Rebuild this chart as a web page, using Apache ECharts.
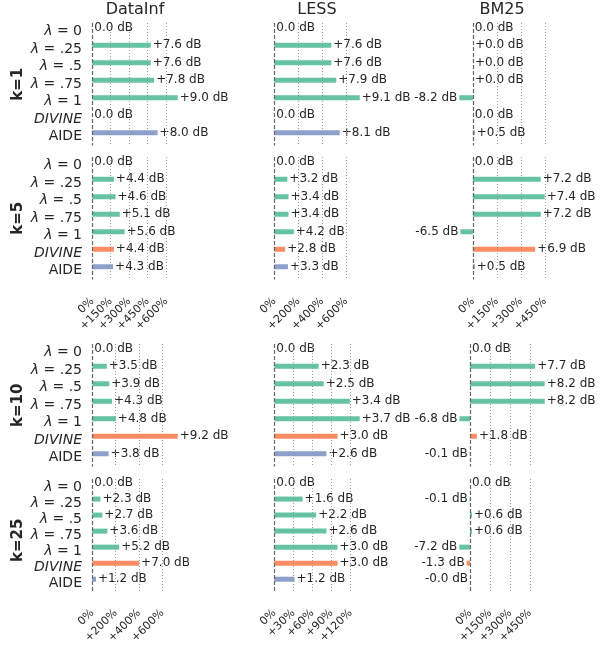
<!DOCTYPE html>
<html>
<head>
<meta charset="utf-8">
<script src="https://cdn.jsdelivr.net/npm/echarts@6/dist/echarts.min.js"></script>
<style>
  html, body { margin: 0; padding: 0; background: #fff; }
  #chart { width: 606px; height: 646px; }
</style>
</head>
<body>
<div id="chart"></div>
<script>
// rows of every panel, top to bottom
const categories = ['λ = 0', 'λ = .25', 'λ = .5', 'λ = .75', 'λ = 1', 'DIVINE', 'AIDE'];
const methods = ['DataInf', 'LESS', 'BM25'];
const kLabels = ['k=1', 'k=5', 'k=10', 'k=25'];

// gain over baseline in dB (bar length is the same gain as a relative %)
const dataInfK1  = [0.0, 7.6, 7.6, 7.8, 9.0, 0.0, 8.0];
const lessK1     = [0.0, 7.6, 7.6, 7.9, 9.1, 0.0, 8.1];
const bm25K1     = [0.0, 0.02, 0.02, 0.02, -8.2, 0.0, 0.5];
const dataInfK5  = [0.0, 4.4, 4.6, 5.1, 5.6, 4.4, 4.3];
const lessK5     = [0.0, 3.2, 3.4, 3.4, 4.2, 2.8, 3.3];
const bm25K5     = [0.0, 7.2, 7.4, 7.2, -6.5, 6.9, 0.5];
const dataInfK10 = [0.0, 3.5, 3.9, 4.3, 4.8, 9.2, 3.8];
const lessK10    = [0.0, 2.3, 2.5, 3.4, 3.7, 3.0, 2.6];
const bm25K10    = [0.0, 7.7, 8.2, 8.2, -6.8, 1.8, -0.1];
const dataInfK25 = [0.0, 2.3, 2.7, 3.6, 5.2, 7.0, 1.2];
const lessK25    = [0.0, 1.6, 2.2, 2.6, 3.0, 3.0, 1.2];
const bm25K25    = [0.0, -0.1, 0.6, 0.6, -7.2, -1.3, -0.02];

// x ticks (%) : top block is k=1/k=5, bottom block is k=10/k=25
const ticksTop    = [[0, 150, 300, 450, 600], [0, 200, 400, 600], [0, 150, 300, 450]];
const ticksBottom = [[0, 200, 400, 600], [0, 30, 60, 90, 120], [0, 150, 300, 450]];

const panelDb = [
  [dataInfK1, lessK1, bm25K1],
  [dataInfK5, lessK5, bm25K5],
  [dataInfK10, lessK10, bm25K10],
  [dataInfK25, lessK25, bm25K25]
];

const FONT = 'DejaVu Sans';
const TXT = '#262626';
const colLeft = [88, 270, 455];
const rowTop = [23, 157, 344, 479];
const gridW = 94, gridH = 122.5;

function toPct(db) { return (Math.pow(10, db / 10) - 1) * 100; }
function fmtDb(v) { return v === 0 ? '0.0 dB' : (v > 0 ? '+' : '') + v.toFixed(1) + ' dB'; }
function barColor(i) { return i < 5 ? '#66c2a5' : (i === 5 ? '#fc8d62' : '#8da0cb'); }

// shared x range per column in each block, with 5% margins
function blockRange(b, c) {
  const vals = panelDb[2 * b][c].concat(panelDb[2 * b + 1][c]).map(toPct);
  const lo = Math.min(0, ...vals), hi = Math.max(0, ...vals);
  const pad = (hi - lo) * 0.05;
  return [lo - pad, hi + pad];
}

const grids = [], xAxes = [], yAxes = [], series = [];
for (let r = 0; r < 4; r++) {
  const b = r < 2 ? 0 : 1;
  for (let c = 0; c < 3; c++) {
    const g = r * 3 + c;
    const ticks = b === 0 ? ticksTop[c] : ticksBottom[c];
    const rng = blockRange(b, c);
    grids.push({ left: colLeft[c], top: rowTop[r], width: gridW, height: gridH });
    xAxes.push({
      type: 'value', gridIndex: g, min: rng[0], max: rng[1],
      axisLine: { show: false }, axisTick: { show: false }, splitLine: { show: false },
      axisLabel: {
        show: r === 1 || r === 3,
        customValues: ticks,
        rotate: 45, margin: 20, fontSize: 11, fontFamily: FONT, color: TXT,
        formatter: v => v === 0 ? '0%' : '+' + v + '%'
      }
    });
    yAxes.push({
      type: 'category', gridIndex: g, data: categories, inverse: true,
      axisLine: { show: false }, axisTick: { show: false }, splitLine: { show: false },
      axisLabel: {
        show: c === 0, interval: 0, margin: 6,
        formatter: v => v.startsWith('λ') ? '{i|λ}{n|' + v.slice(1) + '}'
          : (v === 'DIVINE' ? '{i|DIVINE}' : '{n|' + v + '}'),
        rich: {
          i: { fontStyle: 'italic', fontSize: 14, fontFamily: FONT, color: TXT },
          n: { fontSize: 14, fontFamily: FONT, color: TXT }
        }
      }
    });
    const db = panelDb[r][c];
    series.push({
      type: 'bar', xAxisIndex: g, yAxisIndex: g, barWidth: 5, barGap: '60%', z: 3,
      data: db.map((v, i) => {
        const item = { value: toPct(v), db: v, itemStyle: { color: barColor(i) } };
        if (v < 0) item.label = { position: 'left' };
        return item;
      }),
      label: {
        show: true, position: 'right', distance: 2,
        fontSize: 12, fontFamily: FONT, color: TXT,
        formatter: p => fmtDb(p.data.db)
      }
    });
    // spacer series: pushes the real bars slightly above the row centre, and holds the rules
    series.push({
      type: 'bar', xAxisIndex: g, yAxisIndex: g, barWidth: 5, barGap: '60%', z: 1, silent: true,
      data: categories.map(() => '-'),
      markLine: {
        silent: true, symbol: 'none', label: { show: false }, animation: false,
        data: ticks.map(v => ({
          xAxis: v,
          lineStyle: v === 0
            ? { color: '#666', width: 1.2, type: [4, 2] }
            : { color: '#999', width: 1, type: [1, 2] }
        }))
      }
    });
  }
}

const graphics = [];
methods.forEach((m, c) => {
  graphics.push({
    type: 'text', x: colLeft[c] + gridW / 2, y: 10,
    style: { text: m, fontSize: 16, fontFamily: FONT, fill: TXT, align: 'center', verticalAlign: 'middle' }
  });
});
kLabels.forEach((k, r) => {
  graphics.push({
    type: 'text', x: 18, y: rowTop[r] + gridH / 2, rotation: Math.PI / 2,
    style: { text: k, fontSize: 15, fontWeight: 'bold', fontFamily: FONT, fill: TXT, align: 'center', verticalAlign: 'middle' }
  });
});

const chart = echarts.init(document.getElementById('chart'));
chart.setOption({
  animation: false,
  backgroundColor: '#fff',
  grid: grids,
  xAxis: xAxes,
  yAxis: yAxes,
  series: series,
  graphic: graphics
});
</script>
</body>
</html>
